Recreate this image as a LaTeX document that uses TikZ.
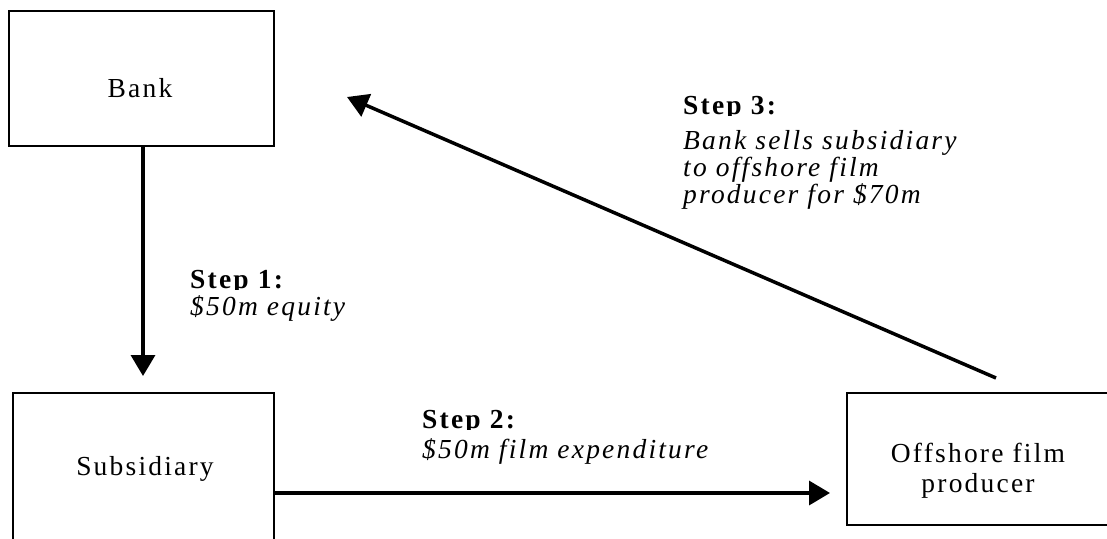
\documentclass[tikz,border=0pt]{standalone}
\usepackage{fontspec}
\setmainfont[LetterSpace=8]{Liberation Serif}
\usetikzlibrary{arrows.meta}
\begin{document}
\begin{tikzpicture}[x=1pt,y=-1pt,
  txt/.style={inner sep=0pt,font=\fontsize{27.5pt}{29pt}\selectfont},
  box/.style={draw,line width=2pt,inner sep=0pt},
  head/.style={txt,anchor=base west,font=\fontsize{27.5pt}{29pt}\selectfont\bfseries},
  desc/.style={txt,anchor=base west,font=\fontsize{27.5pt}{29pt}\selectfont\itshape},
  arr/.style={line width=3.5pt,-{Triangle[length=21pt,width=24pt]}}]
\useasboundingbox (0,0) rectangle (1107,538);
\clip (0,0) rectangle (1107,538);
% boxes
\node[box,minimum width=265pt,minimum height=135pt] (bank) at (141.5,78.5) {};
\node[box,minimum width=261pt,minimum height=152pt] (sub) at (143.5,469) {};
\node[box,minimum width=268pt,minimum height=132pt] (off) at (981,459) {};
% box texts
\node[txt,anchor=base] (banktxt) at (140,97.5) {Bank};
\node[txt,anchor=base] (subtxt) at (145,475) {Subsidiary};
\node[txt,anchor=base] (offtxt1) at (978,462) {Offshore film};
\node[txt,anchor=base] (offtxt2) at (978,492) {producer};
% arrow end points
\coordinate (a1) at (143,376);
\coordinate (a2) at (830,493);
\coordinate (a3s) at (996,378);
\coordinate (a3) at (347,97);
% connectors
\draw[arr] (bank.south -| a1) -- (a1);
\draw[arr] (sub.east |- a2) -- (a2);
\draw[arr] (a3s) -- (a3);
% labels (bold headings clipped at the baseline, as in the reference)
\begin{scope}
\clip (185,250) rectangle (400,289.5);
\node[head] (s1h) at (190,288.5) {Step 1:};
\end{scope}
\node[desc] (s1d) at (190,315) {\$50m equity};
\begin{scope}
\clip (417,395) rectangle (640,429.5);
\node[head] (s2h) at (422,428.5) {Step 2:};
\end{scope}
\node[desc] (s2d) at (422,458) {\$50m film expenditure};
\begin{scope}
\clip (678,80) rectangle (900,115.5);
\node[head] (s3h) at (683,114.5) {Step 3:};
\end{scope}
\node[desc] (s3a) at (683,149) {Bank sells subsidiary};
\node[desc] (s3b) at (683,176) {to offshore film};
\node[desc] (s3c) at (683,203) {producer for \$70m};
\end{tikzpicture}
\end{document}
